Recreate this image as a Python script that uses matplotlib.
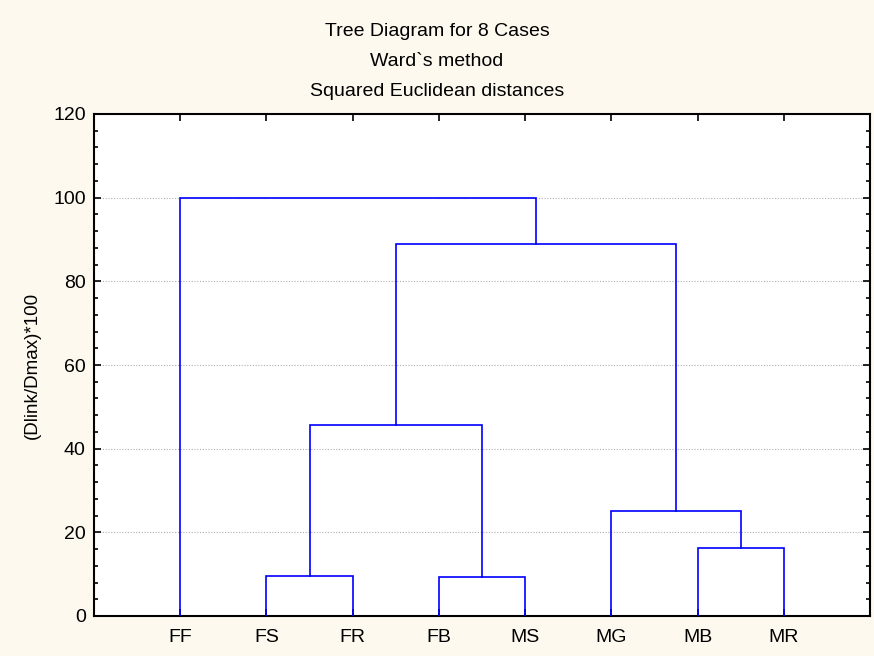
import matplotlib.pyplot as plt
from matplotlib.ticker import MultipleLocator

plt.rcParams['font.family'] = ['Liberation Sans', 'DejaVu Sans']

# leaves in drawing order
leaves = ["FF", "FS", "FR", "FB", "MS", "MG", "MB", "MR"]

# merges: (left, right, linkage distance) ; clusters named c1.. in order
merges = [
    ("FS", "FR", 9.6),
    ("FB", "MS", 9.4),
    ("MB", "MR", 16.2),
    ("MG", "c3", 25.2),
    ("c1", "c2", 45.7),
    ("c5", "c4", 89.0),
    ("FF", "c6", 100.0),
]

blue = "#0000ff"
cream = "#fdf9ef"

fig = plt.figure(figsize=(8.74, 6.56), dpi=100, facecolor=cream)
ax = fig.add_axes([94 / 874, 40 / 656, 776 / 874, 502 / 656])
ax.set_facecolor("white")

# x position and height of each node
pos = {name: i + 1 for i, name in enumerate(leaves)}
hgt = {name: 0.0 for name in leaves}
for k, (a, b, d) in enumerate(merges):
    xa, xb = pos[a], pos[b]
    ax.plot([xa, xa, xb, xb], [hgt[a], d, d, hgt[b]], color=blue, lw=1.2,
            solid_joinstyle="miter", zorder=3)
    name = "c%d" % (k + 1)
    pos[name] = (xa + xb) / 2
    hgt[name] = d

ax.set_xlim(0, len(leaves) + 1)
ax.set_ylim(0, 120)
ax.set_xticks(range(1, len(leaves) + 1))
ax.set_xticklabels(leaves)
ax.yaxis.set_major_locator(MultipleLocator(20))
ax.yaxis.set_minor_locator(MultipleLocator(4))

ax.tick_params(axis="both", which="both", direction="in", top=True, right=True,
               labelsize=14, width=1.2, colors="black", pad=6)
ax.tick_params(which="major", length=5)
ax.tick_params(which="minor", length=3)
ax.tick_params(axis="x", pad=9)

for gy in range(20, 120, 20):
    ax.axhline(gy, color="#b0b0b0", lw=0.8, ls=(0, (1, 1.5)), zorder=1)

for s in ax.spines.values():
    s.set_linewidth(1.5)
    s.set_color("black")

ax.set_ylabel("(Dlink/Dmax)*100", fontsize=13.5, labelpad=9)

titles = ["Tree Diagram for 8 Cases", "Ward`s method", "Squared Euclidean distances"]
for t, ypix in zip(titles, [32, 62, 91]):
    fig.text(0.5, 1 - ypix / 656, t, ha="center", va="center", fontsize=14)

fig.savefig("out.png", dpi=100, facecolor=cream)
